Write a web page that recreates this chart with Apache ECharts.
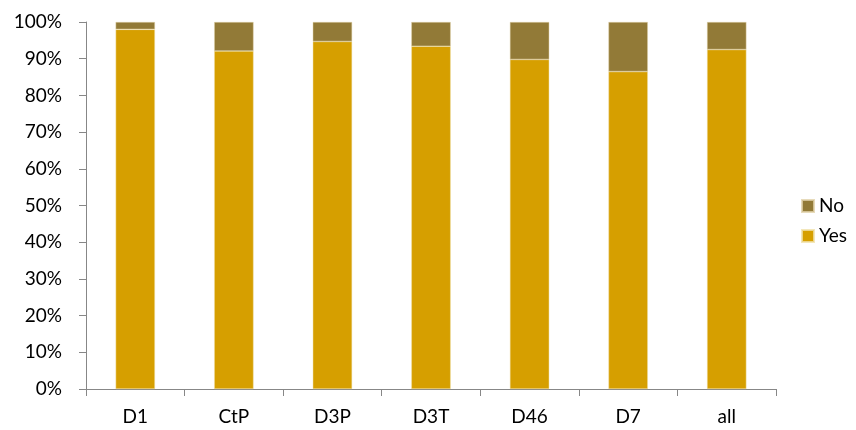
<!DOCTYPE html>
<html>
<head>
<meta charset="utf-8">
<script src="https://cdn.jsdelivr.net/npm/echarts@6/dist/echarts.min.js"></script>
<style>
  html, body { margin: 0; padding: 0; background: #ffffff; }
  #chart { width: 856px; height: 430px; }
</style>
</head>
<body>
<div id="chart"></div>
<script>
// Share of answers per group (percent)
var categories = ['D1', 'CtP', 'D3P', 'D3T', 'D46', 'D7', 'all'];
var yesValues = [98.0, 92.1, 94.7, 93.4, 89.8, 86.5, 92.5];
var noValues = [2.0, 7.9, 5.3, 6.6, 10.2, 13.5, 7.5];
var seriesNames = ['No', 'Yes'];

var FONT = 'Lato, "DejaVu Sans", sans-serif';
var AXIS_GREY = '#878787';
var YES_COLOR = '#D69F00';
var NO_COLOR = '#927A37';

var chart = echarts.init(document.getElementById('chart'), null, { renderer: 'canvas' });

chart.setOption({
  animation: false,
  backgroundColor: '#ffffff',
  textStyle: { fontFamily: FONT },
  grid: { left: 86, right: 80, top: 22, bottom: 41, containLabel: false },
  legend: {
    data: seriesNames,
    orient: 'vertical',
    left: 796,
    top: 191,
    itemWidth: 12,
    itemHeight: 12,
    itemGap: 10,
    icon: 'rect',
    textStyle: { fontFamily: FONT, fontSize: 19, color: '#000000', lineHeight: 20 }
  },
  xAxis: {
    type: 'category',
    data: categories,
    axisLine: { lineStyle: { color: AXIS_GREY, width: 1 } },
    axisTick: { show: true, length: 7, lineStyle: { color: AXIS_GREY } },
    axisLabel: { fontFamily: FONT, fontSize: 19, color: '#000000', margin: 18 },
    splitLine: { show: false }
  },
  yAxis: {
    type: 'value',
    min: 0,
    max: 100,
    interval: 10,
    axisLine: { show: true, lineStyle: { color: AXIS_GREY, width: 1 } },
    axisTick: { show: true, length: 7, lineStyle: { color: AXIS_GREY } },
    axisLabel: { fontFamily: FONT, fontSize: 19, color: '#000000', margin: 24, formatter: '{value}%' },
    splitLine: { show: false }
  },
  series: [
    {
      name: 'Yes',
      type: 'bar',
      stack: 'share',
      data: yesValues,
      barWidth: '40%',
      itemStyle: { color: YES_COLOR, borderColor: 'rgba(240,225,170,0.8)', borderWidth: 0.6 }
    },
    {
      name: 'No',
      type: 'bar',
      stack: 'share',
      data: noValues,
      barWidth: '40%',
      itemStyle: { color: NO_COLOR, borderColor: 'rgba(225,210,170,0.8)', borderWidth: 0.6 }
    }
  ]
});
</script>
</body>
</html>
